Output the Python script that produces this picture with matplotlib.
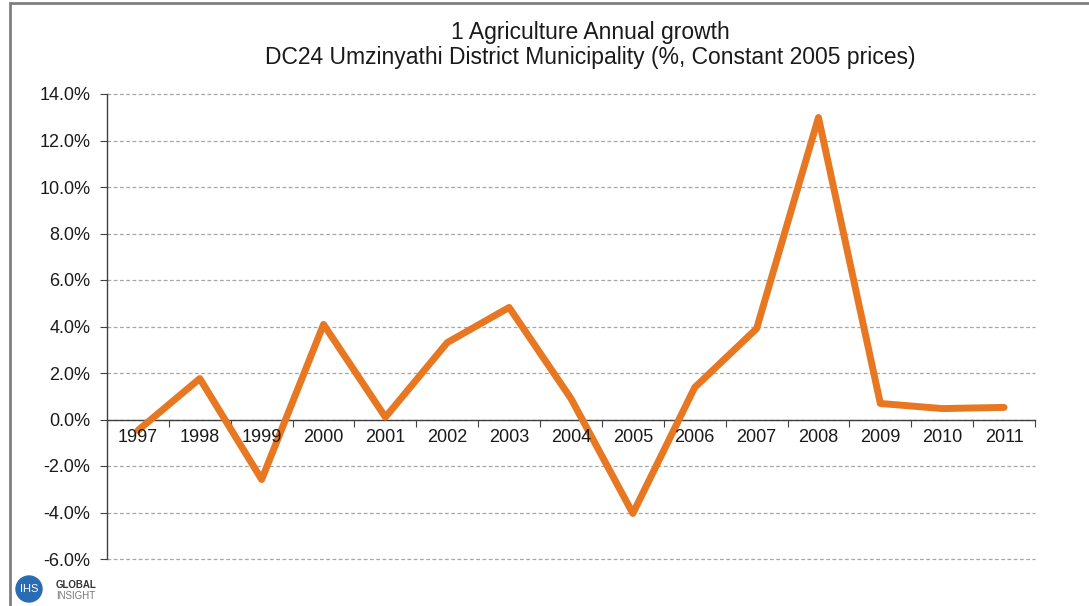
import matplotlib.pyplot as plt
from matplotlib.patches import Rectangle, Ellipse
from matplotlib.ticker import FuncFormatter

plt.rcParams['font.family'] = ['Liberation Sans', 'DejaVu Sans']

# data
years = ['1997', '1998', '1999', '2000', '2001', '2002', '2003', '2004',
         '2005', '2006', '2007', '2008', '2009', '2010', '2011']
growth = [-0.47, 1.76, -2.58, 4.09, 0.1, 3.31, 4.82, 0.9,
          -4.04, 1.38, 3.91, 12.99, 0.69, 0.47, 0.52]

title = '1 Agriculture Annual growth\nDC24 Umzinyathi District Municipality (%, Constant 2005 prices)'

fig = plt.figure(figsize=(10.89, 6.06), dpi=100)
ax = fig.add_axes([107 / 1089, 1 - 559 / 606, (1035 - 107) / 1089, (559 - 94) / 606])

x = list(range(len(years)))
ax.plot(x, growth, color='#E87722', linewidth=5, solid_joinstyle='round',
        solid_capstyle='round', zorder=3)

ax.set_xlim(-0.5, len(years) - 0.5)
ax.set_ylim(-6, 14)
ax.set_yticks(range(-6, 15, 2))
ax.yaxis.set_major_formatter(FuncFormatter(lambda v, p: f'{v:.1f}%'))
ax.yaxis.grid(True, linestyle=(0, (3, 2)), color='#a6a6a6', linewidth=0.9)
ax.set_axisbelow(True)
for gl in ax.get_ygridlines():
    gl.set_clip_on(False)

# category labels sit just under the zero line, ticks between categories
ax.spines['bottom'].set_position(('data', 0))
ax.spines['top'].set_visible(False)
ax.spines['right'].set_visible(False)
for s in ['left', 'bottom']:
    ax.spines[s].set_color('#404040')
    ax.spines[s].set_linewidth(1.0)
ax.set_xticks([i + 0.5 for i in range(-1, len(years))])
ax.set_xticklabels([])
ax.tick_params(axis='x', length=5, direction='out', color='#404040')
ax.tick_params(axis='y', length=5, direction='out', color='#404040',
               labelsize=13, pad=7, labelcolor='#1a1a1a')
for i, yr in enumerate(years):
    ax.text(i, -0.42, yr, ha='center', va='top', fontsize=13, color='#1a1a1a')

fig.text(590 / 1089, 1 - 45 / 606, title, ha='center', va='center', fontsize=16.5,
         color='#1a1a1a', linespacing=1.1)

# outer frame of the chart area
fig.patches.append(Rectangle((10 / 1089, -0.1), 1.2, 1 - 3 / 606 + 0.1,
                             transform=fig.transFigure, fill=False,
                             edgecolor='#7f7f7f', linewidth=2))

# logo
fig.patches.append(Ellipse((29 / 1089, 1 - 589 / 606), 26 / 1089, 26 / 606,
                           transform=fig.transFigure, color='#2a6cb3'))
fig.text(29 / 1089, 1 - 589 / 606, 'IHS', ha='center', va='center', fontsize=8,
         color='white')
fig.text(56 / 1089, 1 - 585 / 606, 'GLOBAL', ha='left', va='center', fontsize=7,
         weight='bold', color='#333333')
fig.text(56 / 1089, 1 - 596 / 606, 'INSIGHT', ha='left', va='center', fontsize=7,
         color='#777777')

fig.savefig('out.png', dpi=100)
